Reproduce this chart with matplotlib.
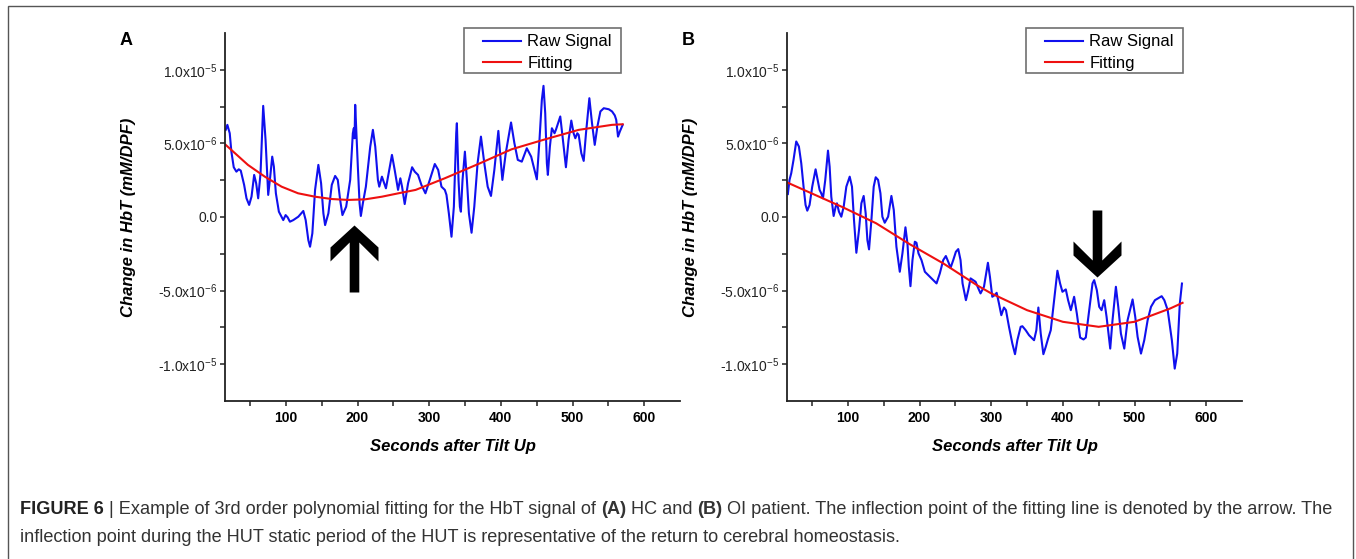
import matplotlib
matplotlib.use("Agg")
import matplotlib.pyplot as plt
import numpy as np
from matplotlib.path import Path
from matplotlib.patches import Rectangle

# HbT values are stored in units of 1e-6 (mM/DPF)
raw_a_t = [16.0, 18.3, 21.6, 23.9, 27.2, 30.9, 34.2, 37.0, 41.7, 45.0, 48.7, 52.0, 55.7, 58.5, 61.3, 64.6,
           68.3, 71.6, 75.3, 78.1, 80.9, 83.2, 86.0, 90.2, 96.3, 99.6, 102.4, 105.6, 110.3, 117.3, 124.3,
           127.6, 131.3, 133.7, 136.9, 140.7, 145.3, 149.1, 152.3, 154.7, 159.3, 164.0, 168.7, 172.4, 175.7,
           178.9, 184.1, 189.7, 193.4, 194.8, 195.8, 196.7, 198.6, 200.4, 202.8, 204.6, 207.4, 211.6, 217.7,
           221.4, 224.7, 228.4, 230.3, 234.0, 236.4, 239.6, 243.4, 248.0, 251.8, 256.5, 259.7, 262.1, 265.8,
           270.5, 276.1, 279.8, 284.4, 289.1, 294.7, 300.8, 307.8, 312.5, 317.1, 319.5, 321.8, 324.1, 327.4,
           331.1, 334.4, 336.3, 337.7, 338.6, 339.5, 340.9, 342.8, 344.2, 346.5, 349.8, 352.6, 355.4, 359.1,
           362.9, 367.5, 372.2, 376.9, 381.6, 386.2, 390.9, 396.5, 399.3, 402.1, 406.8, 414.2, 418.9, 423.6,
           429.2, 436.2, 442.3, 446.9, 450.2, 453.9, 457.2, 459.5, 461.9, 464.2, 465.6, 468.4, 471.2, 474.9,
           476.8, 482.9, 486.1, 490.8, 494.5, 498.3, 501.5, 503.9, 506.7, 508.6, 512.3, 515.6, 518.8, 523.5,
           527.2, 531.0, 534.7, 538.9, 543.6, 550.6, 555.2, 559.0, 561.0, 563.5, 566.0, 570.0]
raw_a_v = [5.92, 6.26, 5.69, 4.44, 3.38, 3.08, 3.24, 3.15, 2.18, 1.27, 0.82, 1.38, 2.86, 2.29, 1.27, 2.97,
           7.55, 5.24, 1.50, 2.74, 4.10, 3.42, 1.61, 0.36, -0.21, 0.13, -0.02, -0.32, -0.21, 0.02, 0.41,
           -0.21, -1.57, -2.02, -1.11, 1.84, 3.54, 2.29, 0.25, -0.55, 0.25, 2.18, 2.79, 2.52, 1.16,
           0.13, 0.70, 2.52, 5.69, 6.03, 5.35, 7.62, 5.46, 3.42, 0.93, 0.07, 0.93, 2.06, 4.78,
           5.92, 4.78, 2.52, 2.06, 2.74, 2.40, 1.95, 2.97, 4.22, 3.20, 1.84, 2.63, 2.06, 0.88,
           2.29, 3.38, 3.08, 2.86, 2.18, 1.61, 2.52, 3.60, 3.20, 2.06, 1.95, 1.84, 1.50, 0.25,
           -1.34, 0.70, 3.65, 5.69, 6.37, 4.78, 2.52, 0.70, 0.36, 2.52, 4.44, 2.52, 0.25, -1.07,
           0.70, 3.65, 5.46, 3.65, 2.06, 1.43, 3.20, 5.85, 4.10, 2.52, 4.33, 6.42, 5.01, 3.88,
           3.76, 4.67, 4.10, 3.20, 2.56, 5.24, 7.96, 8.91, 7.05, 3.65, 2.86, 4.78, 6.03, 5.69,
           5.92, 6.83, 5.46, 3.38, 5.24, 6.55, 5.69, 5.35, 5.69, 5.58, 4.33, 3.81, 5.69, 8.07,
           6.37, 4.90, 6.14, 7.17, 7.39, 7.32, 7.17, 6.90, 6.60, 5.46, 5.80, 6.26]
fit_a_t = [16, 47, 70.6, 94, 117, 140.6, 164, 187, 210.7, 234, 257, 281, 321.7, 368.5, 415, 462, 508.6, 555, 570]
fit_a_v = [4.9, 3.54, 2.74, 2.06, 1.61, 1.38, 1.22, 1.16, 1.2, 1.38, 1.61, 1.84, 2.63, 3.6, 4.6, 5.28, 5.92, 6.26, 6.3]

raw_b_t = [16.2, 18.5, 20.9, 24.1, 27.9, 31.6, 34.9, 38.1, 40.9, 43.3, 46.5, 50.2, 54.9, 57.7, 60.5, 62.8,
           65.2, 68.4, 72.2, 74.5, 76.8, 80.1, 82.9, 84.7, 87.5, 90.8, 94.1, 97.8, 102.5, 105.7, 108.5,
           111.8, 115.5, 118.8, 122.0, 124.8, 127.2, 129.5, 132.8, 136.0, 138.8, 142.1, 145.4, 148.1, 151.4,
           156.1, 160.7, 164.0, 167.7, 172.4, 176.1, 180.3, 183.1, 185.0, 187.3, 190.1, 193.4, 195.7, 198.5,
           202.7, 207.4, 214.4, 219.0, 223.7, 228.3, 233.0, 236.7, 240.0, 243.3, 247.0, 250.7, 254.0, 257.2,
           260.0, 264.7, 268.0, 271.2, 274.9, 278.2, 281.5, 285.1, 289.9, 295.4, 298.2, 301.5, 304.8, 307.6,
           310.8, 314.1, 317.8, 320.6, 324.8, 329.5, 333.2, 336.5, 341.1, 343.5, 348.1, 352.8, 357.4, 359.8,
           363.0, 365.8, 369.1, 372.8, 376.1, 379.4, 383.1, 387.8, 392.4, 396.1, 399.4, 404.1, 407.3, 411.1,
           415.7, 419.5, 424.1, 428.8, 432.0, 436.7, 441.4, 443.7, 447.4, 450.7, 454.0, 457.7, 461.0, 466.1,
           469.3, 474.0, 477.3, 481.0, 485.7, 490.3, 497.3, 501.0, 504.3, 509.0, 513.6, 518.3, 523.0, 528.5,
           534.6, 537.9, 541.6, 546.3, 552.1, 556.1, 559.6, 563.2, 566.2]
raw_b_v = [1.56, 2.52, 2.97, 3.88, 5.13, 4.79, 3.65, 2.06, 0.82, 0.43, 0.82, 2.06, 3.24, 2.52, 1.84, 1.61,
           1.27, 2.52, 4.51, 3.42, 1.38, 0.07, 0.70, 0.93, 0.36, 0.02, 0.70, 2.06, 2.74, 2.06, -0.20,
           -2.43, -0.88, 0.93, 1.43, 0.25, -1.57, -2.20, -0.20, 2.06, 2.70, 2.52, 1.61, 0.02, -0.39,
           0.02, 1.43, 0.48, -2.02, -3.72, -2.47, -0.70, -1.79, -3.38, -4.70, -2.93, -1.68, -1.75, -2.47,
           -2.93, -3.72, -4.06, -4.29, -4.51, -3.83, -2.93, -2.65, -3.04, -3.45, -2.93, -2.36, -2.18, -2.93,
           -4.51, -5.65, -4.97, -4.17, -4.29, -4.40, -4.79, -5.19, -4.74, -3.11, -4.06, -5.42, -5.31, -5.15,
           -5.87, -6.67, -6.15, -6.33, -7.46, -8.60, -9.32, -8.37, -7.46, -7.42, -7.69, -8.03, -8.26, -8.37,
           -7.69, -6.15, -7.92, -9.32, -8.82, -8.26, -7.69, -5.65, -3.65, -4.51, -5.08, -4.92, -5.65, -6.33,
           -5.42, -6.56, -8.19, -8.32, -8.19, -6.33, -4.51, -4.29, -4.97, -6.10, -6.33, -5.65, -6.78, -8.94,
           -7.01, -4.74, -6.10, -7.92, -8.94, -7.01, -5.60, -6.78, -8.14, -9.28, -8.37, -7.01, -6.10, -5.65,
           -5.47, -5.38, -5.65, -6.33, -8.37, -10.3, -9.28, -5.88, -4.52]
fit_b_t = [15, 93, 139.5, 186, 233, 280, 300, 350, 400, 450, 500, 550, 567]
fit_b_v = [2.35, 0.66, -0.43, -1.84, -3.15, -4.63, -5.19, -6.33, -7.12, -7.46, -7.12, -6.21, -5.83]

# arrow tips (seconds, 1e-6 units)
arrow_a = (195, -0.54)
arrow_b = (448, -4.08)

x_major = [100, 200, 300, 400, 500, 600]
x_minor = [50, 150, 250, 350, 450, 550]
y_major = [-1e-5, -5e-6, 0, 5e-6, 1e-5]
y_minor = [-7.5e-6, -2.5e-6, 2.5e-6, 7.5e-6]
y_labels = ['-1.0x10$^{-5}$', '-5.0x10$^{-6}$', '0.0', '5.0x10$^{-6}$', '1.0x10$^{-5}$']

caption_1 = [("FIGURE 6", "bold"),
             (" | Example of 3rd order polynomial fitting for the HbT signal of ", "normal"),
             ("(A)", "bold"), (" HC and ", "normal"), ("(B)", "bold"),
             (" OI patient. The inflection point of the fitting line is denoted by the arrow. The", "normal")]
caption_2 = "inflection point during the HUT static period of the HUT is representative of the return to cerebral homeostasis."

plt.rcParams['font.family'] = ['Liberation Sans', 'DejaVu Sans']
plt.rcParams['mathtext.default'] = 'regular'

W, H = 1356, 559
fig = plt.figure(figsize=(W / 100, H / 100), dpi=100)


def arrow_marker(direction):
    # chevron-headed arrow, tip at origin, sizes in points
    pts = [(0, 0), (24, -22), (24, -36), (4.8, -17), (4.8, -67), (-4.8, -67), (-4.8, -17), (-24, -36), (-24, -22)]
    pts = np.array(pts) * 0.72
    pts[:, 1] *= direction
    verts = np.vstack([pts, pts[:1]])
    return Path(verts, closed=True), 2 * np.abs(pts).max()


def panel(left_px, raw_t, raw_v, fit_t, fit_v, arrow, direction, letter):
    ax = fig.add_axes([left_px / W, (H - 401) / H, 455 / W, 368 / H])
    ax.plot(raw_t, np.array(raw_v) * 1e-6, color='#1010ee', lw=1.5, label='Raw Signal')
    ax.plot(fit_t, np.array(fit_v) * 1e-6, color='#ee1010', lw=1.5, label='Fitting')
    path, ms = arrow_marker(direction)
    ax.plot([arrow[0]], [arrow[1] * 1e-6], marker=path, ms=ms, color='black', mew=0, ls='none')
    ax.set_xlim(15, 650)
    ax.set_ylim(-1.25e-5, 1.25e-5)
    for s in ['top', 'right']:
        ax.spines[s].set_visible(False)
    for s in ['left', 'bottom']:
        ax.spines[s].set_linewidth(1.3)
        ax.spines[s].set_color('#222222')
    ax.set_xticks(x_major)
    ax.set_xticks(x_minor, minor=True)
    ax.set_yticks(y_major)
    ax.set_yticklabels(y_labels)
    ax.set_yticks(y_minor, minor=True)
    ax.tick_params(which='both', direction='out', length=3.3, width=1.1, color='#222222')
    ax.tick_params(axis='x', labelsize=10, pad=3.8)
    ax.tick_params(axis='y', labelsize=10, pad=2.2, labelcolor='#222222')
    for lab in ax.get_xticklabels():
        lab.set_fontweight('bold')
    ax.set_xlabel('Seconds after Tilt Up', fontsize=12, fontweight='bold', fontstyle='italic', va='center')
    ax.set_ylabel('Change in HbT (mM/DPF)', fontsize=12, fontweight='bold', fontstyle='italic', va='center')
    ax.xaxis.set_label_coords(0.5, -0.125)
    ax.yaxis.set_label_coords(-0.211, 0.5)
    fig.text((left_px - 99) / W, (H - 40.5) / H, letter, fontsize=13, fontweight='bold', ha='center', va='center')
    # legend, with its frame drawn to the original box size
    box_l = left_px + 239
    fig.patches.append(Rectangle((box_l / W, (H - 72.7) / H), 157 / W, 44.7 / H,
                                 transform=fig.transFigure, fill=False, ec='#707070', lw=1.2))
    ax.legend(loc='center left', bbox_to_anchor=((box_l + 19) / W, (H - 52.5) / H),
              bbox_transform=fig.transFigure, frameon=False, fontsize=12, borderpad=0,
              handlelength=2.3, handletextpad=0.35, labelspacing=0.37, borderaxespad=0)
    return ax


panel(225, raw_a_t, raw_a_v, fit_a_t, fit_a_v, arrow_a, 1, 'A')
panel(787, raw_b_t, raw_b_v, fit_b_t, fit_b_v, arrow_b, -1, 'B')

# outer frame
fig.patches.append(Rectangle((8 / W, -0.05), 1344.7 / W, (H - 6) / H + 0.05,
                             transform=fig.transFigure, fill=False, ec='#555555', lw=1.0))

# caption, first line built from bold and regular pieces
cap_family = ['Liberation Sans Narrow', 'Liberation Sans']
pieces = []
prev = None
for txt, weight in caption_1:
    if prev is None:
        t = fig.text(20 / W, (H - 510) / H, txt, fontsize=12, fontweight=weight,
                     family=cap_family, va='center', ha='left', color='#222222')
    else:
        t = plt.annotate(txt, xy=(1, 0), xycoords=prev, va='bottom', ha='left', fontsize=12,
                         fontweight=weight, family=cap_family, color='#333333', annotation_clip=False)
    pieces.append(t)
    prev = t
line2 = fig.text(20 / W, (H - 537) / H, caption_2, fontsize=12, family=cap_family,
                 va='center', ha='left', color='#333333')

fig.canvas.draw()
r = fig.canvas.get_renderer()
width = pieces[-1].get_window_extent(r).x1 - pieces[0].get_window_extent(r).x0
scale = 1316 / width
for t in pieces + [line2]:
    t.set_fontsize(12 * scale)

fig.savefig('out.png', dpi=100)
